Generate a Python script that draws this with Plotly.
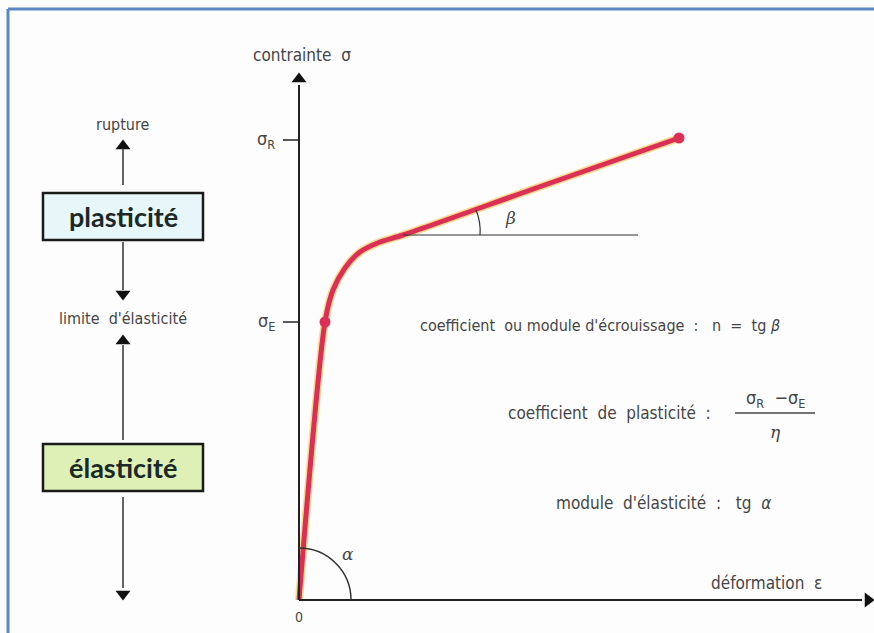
import plotly.graph_objects as go

# ---- data (diagram units: deformation / contrainte) ----
strain = [0, 26, 34, 46, 61, 81, 104, 240, 380]
stress = [0, 278, 310, 332, 348, 358, 365, 413, 462]
key_strain = [26, 380]
key_stress = [278, 462]
tick_labels = ["σ<sub>R</sub>", "σ<sub>E</sub>"]
tick_values = [460, 278]

FONT = "Liberation Sans Narrow, DejaVu Sans Condensed, Roboto Condensed, Liberation Sans, sans-serif"
GREY = "#454545"
RED = "#dc2f55"

fig = go.Figure()

# curve halo + curve
fig.add_trace(go.Scatter(x=strain, y=stress, mode="lines",
                         line=dict(color="rgba(245,190,60,0.55)", width=8, shape="spline", smoothing=0.8),
                         hoverinfo="skip", showlegend=False))
fig.add_trace(go.Scatter(x=strain, y=stress, mode="lines",
                         line=dict(color=RED, width=5, shape="spline", smoothing=0.8),
                         hoverinfo="skip", showlegend=False))
fig.add_trace(go.Scatter(x=key_strain, y=key_stress, mode="markers",
                         marker=dict(color=RED, size=11), hoverinfo="skip", showlegend=False))

shapes = []
def line(x0, y0, x1, y1, w=1.6, c="#222"):
    shapes.append(dict(type="line", xref="x", yref="y", x0=x0, y0=y0, x1=x1, y1=y1,
                       line=dict(color=c, width=w)))

# axes
line(0, 0, 0, 515, 2)
line(0, 0, 563, 0, 2)
for v in tick_values:
    line(-16, v, 0, v, 1.5)
# beta reference line
line(104, 365, 339, 365, 1.2, "#333")
# beta arc
shapes.append(dict(type="path", xref="x", yref="y",
                   path="M 181 365 Q 182 378 177 390", line=dict(color="#333", width=1.2)))
# alpha arc (quarter circle radius 52)
R = 52
k = 0.5523 * R
shapes.append(dict(type="path", xref="x", yref="y",
                   path=f"M 0 {R} C {k} {R} {R} {k} {R} 0", line=dict(color="#333", width=1.5)))

# left column
CX = -176
line(CX, 452, CX, 415, 1.5, "#333")
line(CX, 358, CX, 310, 1.5, "#333")
line(CX, 255, CX, 160, 1.5, "#333")
line(CX, 103, CX, 12, 1.5, "#333")
shapes.append(dict(type="rect", xref="x", yref="y", x0=-256, x1=-96, y0=360, y1=407,
                   fillcolor="#e7f7f9", line=dict(color="#1a1a1a", width=2.5), layer="below"))
shapes.append(dict(type="rect", xref="x", yref="y", x0=-256, x1=-96, y0=109, y1=156,
                   fillcolor="#dff0b6", line=dict(color="#1a1a1a", width=2.5), layer="below"))
# fraction bar
line(436, 187, 516, 187, 1.3, "#444")

# frame
shapes.append(dict(type="line", xref="paper", yref="paper", x0=8/874, x1=1, y0=1-9/633, y1=1-9/633,
                   line=dict(color="#5a87c6", width=3)))
shapes.append(dict(type="line", xref="paper", yref="paper", x0=8/874, x1=8/874, y0=0, y1=1-9/633,
                   line=dict(color="#5a87c6", width=3)))

# arrow heads
fig.add_trace(go.Scatter(x=[0, CX, CX], y=[521, 454, 259], mode="markers",
                         marker=dict(symbol="triangle-up", size=13, color="#111"),
                         hoverinfo="skip", showlegend=False))
fig.add_trace(go.Scatter(x=[CX, CX], y=[306, 6], mode="markers",
                         marker=dict(symbol="triangle-down", size=13, color="#111"),
                         hoverinfo="skip", showlegend=False))
fig.add_trace(go.Scatter(x=[569], y=[0], mode="markers",
                         marker=dict(symbol="triangle-right", size=13, color="#111"),
                         hoverinfo="skip", showlegend=False))

ann = []
def text(x, y, t, size=14, anchor="center", color=GREY, family=FONT):
    ann.append(dict(x=x, y=y, xref="x", yref="y", text=t, showarrow=False, xanchor=anchor,
                    yanchor="middle", font=dict(size=size, color=color, family=family)))

text(3, 545, "contrainte  σ", 17)
for lab, v in zip(tick_labels, tick_values):
    text(-22, v, lab, 18, "right")
text(0, -17, "0", 14)
text(211, 382, "<i>β</i>", 17, family="DejaVu Serif, serif")
text(49, 46, "<i>α</i>", 17, family="DejaVu Serif, serif")
text(467, 17, "déformation  ε", 17)

text(119, 275, "coefficient  ou module d'écrouissage  :   n  =  tg <i>β</i>", 16, "left")
text(414, 187, "coefficient  de  plasticité  :", 17, "right")
text(476, 201, "σ<sub>R</sub>  −σ<sub>E</sub>", 18)
text(476, 168, "<i>η</i>", 17, family="DejaVu Serif, serif")
text(474, 97, "module  d'élasticité  :   tg  <i>α</i>", 17, "right")

text(CX, 476, "rupture", 16)
text(CX, 282, "limite  d'élasticité", 16)
BOX = "Lato, Noto Sans, sans-serif"
ann.append(dict(x=CX, y=383.5, xref="x", yref="y", text="<b>plasticité</b>", showarrow=False,
                font=dict(size=27, color="#1b2828", family=BOX)))
ann.append(dict(x=CX, y=132.5, xref="x", yref="y", text="<b>élasticité</b>", showarrow=False,
                font=dict(size=27, color="#1b2828", family=BOX)))

fig.update_layout(
    width=874, height=633, margin=dict(l=0, r=0, t=0, b=0),
    paper_bgcolor="#fdfdfd", plot_bgcolor="#fdfdfd",
    xaxis=dict(range=[-299, 575], visible=False, fixedrange=True),
    yaxis=dict(range=[-33, 600], visible=False, fixedrange=True),
    shapes=shapes, annotations=ann, showlegend=False,
)
fig.write_html("out.html", config={"displayModeBar": False, "staticPlot": True},
               post_script="document.body.style.margin='0';document.body.style.overflow='hidden';")
